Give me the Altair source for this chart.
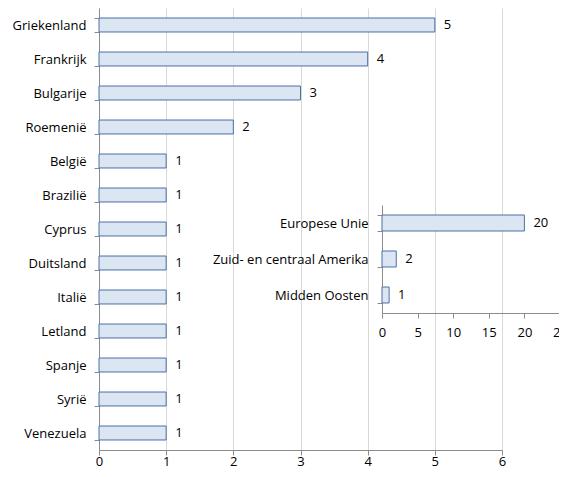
import altair as alt
import pandas as pd

countries = ["Griekenland", "Frankrijk", "Bulgarije", "Roemenië", "België", "Brazilië",
             "Cyprus", "Duitsland", "Italië", "Letland", "Spanje", "Syrië", "Venezuela"]
counts = [5, 4, 3, 2, 1, 1, 1, 1, 1, 1, 1, 1, 1]
main_ticks = [0, 1, 2, 3, 4, 5, 6]

regions = ["Europese Unie", "Zuid- en centraal Amerika", "Midden Oosten"]
region_counts = [20, 2, 1]
inset_ticks = [0, 5, 10, 15, 20, 25]

FONT = "Open Sans"
FS = 13
FILL = "#dce6f2"
STROKE = "#4a6fa5"
AXIS = "#8c8c8c"
GRID = "#d9d9d9"

df1 = pd.DataFrame({"land": countries, "aantal": counts})
df2 = pd.DataFrame({"regio": regions, "aantal": region_counts})

W, H = 403, 442

x1 = alt.X("aantal:Q", scale=alt.Scale(domain=[0, 6], nice=False),
           axis=alt.Axis(values=main_ticks, title=None, grid=True, gridColor=GRID,
                         domainColor=AXIS, tickColor=AXIS, tickSize=5, labelPadding=0,
                         labelFlush=False, labelBaseline="top",
                         labelFont=FONT, labelFontSize=FS, labelColor="#000"))
y1 = alt.Y("land:N", sort=countries,
           scale=alt.Scale(paddingInner=0.59, paddingOuter=0.295),
           axis=alt.Axis(title=None, tickBand="extent", domainColor=AXIS, tickColor=AXIS,
                         tickSize=5, labelPadding=8, labelFont=FONT, labelFontSize=FS,
                         labelColor="#000", grid=False))

bars1 = alt.Chart(df1).mark_bar(fill=FILL, stroke=STROKE, strokeWidth=1).encode(x=x1, y=y1)
text1 = alt.Chart(df1).mark_text(align="left", baseline="middle", dx=9, font=FONT,
                                 fontSize=FS, color="#000").encode(x=x1, y=y1, text="aantal:Q")
main = alt.layer(bars1, text1)

x2 = alt.X("aantal:Q", scale=alt.Scale(domain=[0, 25], nice=False, range=[283, 461]),
           axis=alt.Axis(values=inset_ticks, title=None, grid=False, orient="bottom",
                         offset=-(H - 305), domainColor=AXIS, tickColor=AXIS, tickSize=5,
                         labelPadding=8, labelFlush=False, labelFont=FONT, labelFontSize=FS,
                         labelColor="#000"))
y2 = alt.Y("regio:N", sort=regions,
           scale=alt.Scale(paddingInner=0.556, paddingOuter=0.278, range=[197, 305]),
           axis=alt.Axis(title=None, orient="left", offset=-283, tickBand="extent",
                         domainColor=AXIS, tickColor=AXIS, tickSize=5, labelPadding=9,
                         labelFont=FONT, labelFontSize=FS, labelColor="#000", grid=False))

bars2 = alt.Chart(df2).mark_bar(fill=FILL, stroke=STROKE, strokeWidth=1).encode(x=x2, y=y2)
text2 = alt.Chart(df2).mark_text(align="left", baseline="middle", dx=9, font=FONT,
                                 fontSize=FS, color="#000").encode(x=x2, y=y2, text="aantal:Q")
inset = alt.layer(bars2, text2)

chart = alt.layer(main, inset).resolve_scale(x="independent", y="independent").resolve_axis(
    x="independent", y="independent").properties(
    width=W, height=H,
    autosize=alt.AutoSizeParams(type="none"),
    padding={"left": 91, "top": 0, "right": 57, "bottom": 19},
).configure_view(stroke=None)

chart.save("out.html", embed_options={"renderer": "svg", "actions": False})
